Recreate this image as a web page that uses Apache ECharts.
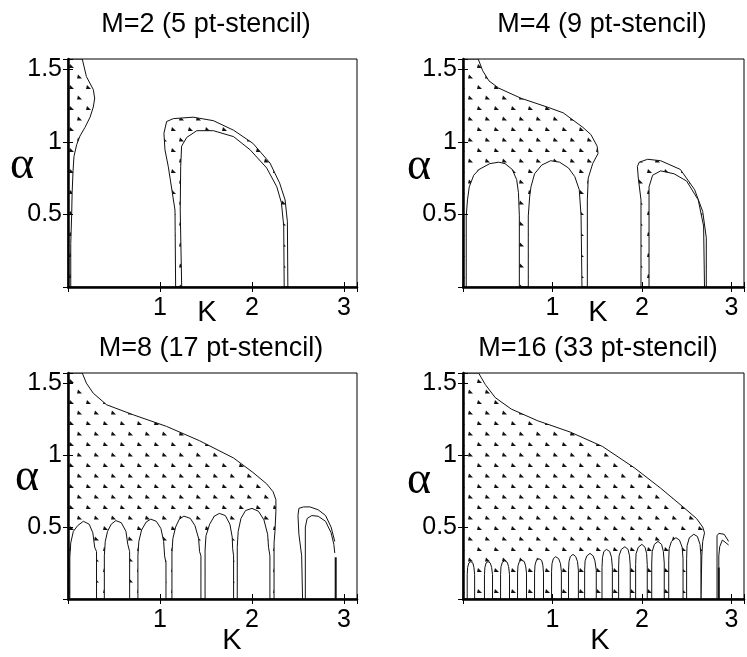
<!DOCTYPE html>
<html>
<head>
<meta charset="utf-8">
<script src="https://cdn.jsdelivr.net/npm/echarts@6/dist/echarts.min.js"></script>
<style>
  html, body { margin: 0; padding: 0; background: #fff; }
  #container { width: 747px; height: 657px; }
</style>
</head>
<body>
<div id="container"></div>
<script>
// panel titles and tick labels
const titles = ['M=2 (5 pt-stencil)', 'M=4 (9 pt-stencil)', 'M=8 (17 pt-stencil)', 'M=16 (33 pt-stencil)'];
const xTicks = [1, 2, 3];
const yTicks = [0.5, 1, 1.5];
const K_MAX = 3.1416, A_MAX = 1.5708;

// ---- M=2 ----
const m2Dotted = [
  [[0,0],[0,1.5708],[0.155,1.5708],[0.20,1.45],[0.275,1.36],[0.29,1.30],[0.275,1.24],[0.24,1.17],[0.185,1.10],[0.13,1.04],[0.094,0.98],[0.065,0.90],[0.055,0.80],[0.045,0.65],[0.04,0.50],[0.03,0.30],[0.03,0]],
  [[1.17,0],[1.165,0.38],[1.163,0.53],[1.09,0.83],[1.054,0.945],[1.043,1.06],[1.072,1.14],[1.145,1.16],[1.36,1.17],[1.58,1.146],[1.80,1.08],[2.01,0.99],[2.196,0.854],[2.30,0.717],[2.36,0.60],[2.385,0.45],[2.39,0]]
];
const m2Holes = [
  [[1.236,0],[1.22,0.53],[1.225,0.83],[1.235,0.97],[1.29,1.03],[1.40,1.077],[1.58,1.077],[1.80,1.036],[1.98,0.945],[2.16,0.82],[2.27,0.69],[2.32,0.58],[2.345,0.42],[2.35,0]]
];

// ---- M=4 ----
const m4Dotted = [
  [[0,0],[0,1.5708],[0.17,1.5708],[0.22,1.49],[0.29,1.42],[0.40,1.37],[0.65,1.30],[0.94,1.24],[1.12,1.20],[1.34,1.10],[1.43,1.05],[1.50,0.97],[1.51,0.92],[1.45,0.85],[1.40,0.75],[1.39,0.60],[1.39,0]],
  [[1.99,0],[1.99,0.60],[1.96,0.75],[1.95,0.83],[1.97,0.86],[2.065,0.88],[2.21,0.87],[2.43,0.81],[2.59,0.67],[2.68,0.52],[2.72,0.34],[2.72,0]]
];
const m4Holes = [
  [[0.036,0],[0.036,0.49],[0.05,0.60],[0.07,0.69],[0.12,0.77],[0.18,0.81],[0.30,0.85],[0.40,0.86],[0.47,0.85],[0.55,0.81],[0.60,0.74],[0.62,0.65],[0.63,0.49],[0.63,0]],
  [[0.73,0],[0.73,0.49],[0.745,0.62],[0.76,0.69],[0.80,0.78],[0.88,0.84],[0.98,0.87],[1.08,0.86],[1.18,0.82],[1.25,0.76],[1.30,0.67],[1.32,0.49],[1.33,0]],
  [[2.08,0],[2.08,0.69],[2.12,0.77],[2.21,0.80],[2.36,0.78],[2.50,0.73],[2.63,0.60],[2.69,0.42],[2.70,0]]
];

// ---- M=8 ----
const m8Dotted = [
  [[0,0],[0,1.5708],[0.155,1.5708],[0.20,1.50],[0.275,1.43],[0.42,1.35],[0.71,1.28],[1.07,1.20],[1.43,1.10],[1.80,0.98],[2.01,0.88],[2.16,0.80],[2.23,0.745],[2.26,0.69],[2.26,0.61],[2.25,0.47],[2.24,0.39],[2.24,0]]
];
const m8Holes = [
  [[0.02,0],[0.02,0.29],[0.03,0.39],[0.058,0.47],[0.105,0.51],[0.167,0.54],[0.23,0.52],[0.27,0.46],[0.29,0.36],[0.31,0.33],[0.31,0]],
  [[0.395,0],[0.395,0.30],[0.405,0.40],[0.43,0.47],[0.47,0.52],[0.52,0.545],[0.58,0.53],[0.63,0.47],[0.65,0.38],[0.67,0.33],[0.67,0]],
  [[0.76,0],[0.76,0.30],[0.77,0.40],[0.80,0.48],[0.85,0.535],[0.90,0.555],[0.96,0.54],[1.01,0.49],[1.04,0.40],[1.05,0.30],[1.065,0.25],[1.065,0]],
  [[1.13,0],[1.13,0.32],[1.14,0.42],[1.17,0.50],[1.21,0.555],[1.26,0.576],[1.33,0.56],[1.38,0.51],[1.42,0.42],[1.43,0.33],[1.445,0.30],[1.445,0]],
  [[1.49,0],[1.49,0.34],[1.50,0.44],[1.54,0.52],[1.59,0.575],[1.645,0.595],[1.71,0.58],[1.76,0.52],[1.785,0.43],[1.79,0.35],[1.80,0.30],[1.80,0]],
  [[1.84,0],[1.84,0.36],[1.85,0.47],[1.88,0.56],[1.93,0.615],[2.00,0.63],[2.07,0.61],[2.13,0.55],[2.17,0.45],[2.18,0.36],[2.195,0.30],[2.195,0]]
];
const m8Lines = [
  [[2.55,0],[2.54,0.30],[2.51,0.45],[2.50,0.58],[2.51,0.63],[2.56,0.64],[2.63,0.64],[2.72,0.62],[2.80,0.58],[2.86,0.50],[2.90,0.40]],
  [[2.58,0],[2.58,0.50],[2.60,0.56],[2.65,0.58],[2.72,0.575],[2.80,0.54],[2.86,0.46],[2.89,0.38],[2.90,0.32]]
];
const m8Bold = [[[2.91,0],[2.91,0.29]]];

// ---- M=16 ----
const m16Dotted = [
  [[0,0],[0,1.5708],[0.174,1.5708],[0.25,1.49],[0.36,1.40],[0.54,1.32],[0.83,1.24],[1.20,1.16],[1.56,1.06],[1.92,0.91],[2.21,0.77],[2.46,0.64],[2.61,0.56],[2.68,0.50],[2.70,0.46],[2.68,0.40],[2.67,0.30],[2.66,0]]
];
const m16Holes = [
  [[0.047,0],[0.047,0.17],[0.052,0.22],[0.065,0.25],[0.087,0.26],[0.11,0.25],[0.122,0.22],[0.13,0.17],[0.13,0]],
  [[0.24,0],[0.24,0.17],[0.245,0.22],[0.258,0.25],[0.28,0.26],[0.305,0.25],[0.32,0.22],[0.33,0.17],[0.33,0]],
  [[0.42,0],[0.42,0.17],[0.425,0.225],[0.44,0.255],[0.467,0.266],[0.495,0.255],[0.51,0.225],[0.52,0.17],[0.52,0]],
  [[0.61,0],[0.61,0.18],[0.615,0.23],[0.63,0.26],[0.655,0.27],[0.685,0.26],[0.70,0.23],[0.71,0.18],[0.71,0]],
  [[0.80,0],[0.80,0.18],[0.805,0.235],[0.82,0.268],[0.85,0.28],[0.88,0.268],[0.893,0.235],[0.90,0.18],[0.90,0]],
  [[0.99,0],[0.99,0.19],[0.995,0.245],[1.01,0.28],[1.036,0.294],[1.07,0.28],[1.09,0.245],[1.10,0.19],[1.10,0]],
  [[1.18,0],[1.18,0.20],[1.185,0.26],[1.20,0.295],[1.23,0.31],[1.26,0.295],[1.28,0.26],[1.29,0.20],[1.29,0]],
  [[1.36,0],[1.36,0.20],[1.365,0.265],[1.385,0.30],[1.42,0.317],[1.455,0.30],[1.475,0.265],[1.49,0.20],[1.49,0]],
  [[1.554,0],[1.554,0.22],[1.56,0.29],[1.575,0.33],[1.605,0.345],[1.64,0.33],[1.66,0.29],[1.67,0.22],[1.67,0]],
  [[1.74,0],[1.74,0.23],[1.745,0.30],[1.77,0.345],[1.81,0.363],[1.845,0.345],[1.862,0.30],[1.87,0.23],[1.87,0]],
  [[1.93,0],[1.93,0.24],[1.935,0.315],[1.96,0.36],[2.00,0.38],[2.035,0.36],[2.053,0.315],[2.06,0.24],[2.06,0]],
  [[2.11,0],[2.11,0.25],[2.115,0.33],[2.14,0.38],[2.18,0.40],[2.22,0.38],[2.24,0.33],[2.25,0.25],[2.25,0]],
  [[2.30,0],[2.30,0.27],[2.305,0.35],[2.33,0.40],[2.38,0.426],[2.42,0.41],[2.45,0.36],[2.46,0.28],[2.46,0]],
  [[2.50,0],[2.50,0.28],[2.505,0.37],[2.53,0.425],[2.58,0.45],[2.62,0.435],[2.65,0.38],[2.66,0.30],[2.66,0]]
];
const m16Lines = [
  [[2.84,0],[2.84,0.44],[2.86,0.456],[2.92,0.45],[2.97,0.40]],
  [[2.86,0.22],[2.86,0.30],[2.87,0.363],[2.90,0.41],[2.94,0.39],[2.97,0.375]]
];
const m16Bold = [[[2.86,0],[2.86,0.22]]];

const panels = [
  { dotted: m2Dotted, holes: m2Holes, lines: [], bold: [] },
  { dotted: m4Dotted, holes: m4Holes, lines: [], bold: [] },
  { dotted: m8Dotted, holes: m8Holes, lines: m8Lines, bold: m8Bold },
  { dotted: m16Dotted, holes: m16Holes, lines: m16Lines, bold: m16Bold }
];

const grids = [
  { left: 68, top: 59, width: 289, height: 228 },
  { left: 463, top: 59, width: 289, height: 228 },
  { left: 68, top: 373, width: 289, height: 226 },
  { left: 463, top: 373, width: 289, height: 226 }
];

// small triangle marks used as the dot fill
function makePattern() {
  const c = document.createElement('canvas');
  c.width = 34; c.height = 21;
  const ctx = c.getContext('2d');
  ctx.fillStyle = '#111';
  [[1, 1], [18, 1], [9, 11.5], [26, 11.5]].forEach(([x, y]) => {
    ctx.beginPath();
    ctx.moveTo(x, y + 4);
    ctx.lineTo(x + 5, y + 4);
    ctx.lineTo(x + 1, y);
    ctx.closePath();
    ctx.fill();
  });
  return c;
}
const pattern = makePattern();

function pick(list) {
  return v => (list.some(t => Math.abs(t - v) < 1e-9) ? String(v) : '');
}

function shapeSeries(gi, polys, kind) {
  return {
    type: 'custom',
    xAxisIndex: gi * 2,
    yAxisIndex: gi * 2,
    clip: true,
    silent: true,
    z: kind === 'dots' ? 2 : 3,
    data: polys.map((p, i) => [p[0][0], p[0][1], i]),
    renderItem: function (params, api) {
      const pts = polys[api.value(2)].map(p => api.coord(p));
      if (kind === 'line' || kind === 'bold') {
        return {
          type: 'polyline',
          shape: { points: pts },
          style: { fill: null, stroke: '#111', lineWidth: kind === 'bold' ? 2 : 1 }
        };
      }
      return {
        type: 'polygon',
        shape: { points: pts },
        style: {
          fill: kind === 'dots' ? { image: pattern, repeat: 'repeat' } : '#fff',
          stroke: '#111',
          lineWidth: 1
        }
      };
    }
  };
}

let mychart = echarts.init(document.getElementById('container'), null, { renderer: 'canvas' });

var option = {
  animation: false,
  backgroundColor: '#fff',
  grid: [],
  xAxis: [],
  yAxis: [],
  series: [],
  graphic: []
};

grids.forEach((g, gi) => {
  option.grid.push(Object.assign({ show: true, borderColor: '#000', borderWidth: 1, backgroundColor: 'transparent' }, g));
  // bottom and top
  option.xAxis.push({
    gridIndex: gi, type: 'value', position: 'bottom', min: 0, max: K_MAX, interval: 1, z: 10,
    axisLine: { show: true, onZero: false, lineStyle: { color: '#000', width: 2.5 } },
    axisTick: { show: true, inside: true, length: 5, lineStyle: { color: '#000', width: 1 } },
    axisLabel: { margin: 9, color: '#000', fontSize: 25, fontFamily: 'Liberation Sans', formatter: pick(xTicks) },
    splitLine: { show: false }
  });
  option.xAxis.push({
    gridIndex: gi, type: 'value', position: 'top', min: 0, max: K_MAX, interval: 1, z: 10,
    axisLine: { show: false },
    axisTick: { show: true, inside: true, length: 5, lineStyle: { color: '#000', width: 1 } },
    axisLabel: { show: false },
    splitLine: { show: false }
  });
  // left and right
  option.yAxis.push({
    gridIndex: gi, type: 'value', position: 'left', min: 0, max: A_MAX, interval: 0.5, z: 10,
    axisLine: { show: true, onZero: false, lineStyle: { color: '#000', width: 2.5 } },
    axisTick: { show: true, inside: true, length: 5, lineStyle: { color: '#000', width: 1 } },
    axisLabel: { margin: 6, color: '#000', fontSize: 25, fontFamily: 'Liberation Sans', formatter: pick(yTicks) },
    splitLine: { show: false }
  });
  option.yAxis.push({
    gridIndex: gi, type: 'value', position: 'right', min: 0, max: A_MAX, interval: 0.5, z: 10,
    axisLine: { show: false },
    axisTick: { show: true, inside: true, length: 5, lineStyle: { color: '#000', width: 1 } },
    axisLabel: { show: false },
    splitLine: { show: false }
  });

  const p = panels[gi];
  option.series.push(shapeSeries(gi, p.dotted, 'dots'));
  option.series.push(shapeSeries(gi, p.holes, 'hole'));
  if (p.lines.length) option.series.push(shapeSeries(gi, p.lines, 'line'));
  if (p.bold.length) option.series.push(shapeSeries(gi, p.bold, 'bold'));
});

// titles, axis names
const titlePos = [[206, 25], [602, 25], [211, 349], [598, 349]];
const alphaPos = [[22, 166], [419, 167], [27, 478], [419, 481]];
const kPos = [[207, 313], [598, 313], [232, 641], [600, 641]];

function txt(text, x, y, font) {
  return {
    type: 'text', x: x, y: y, z: 100,
    style: { text: text, font: font, fill: '#000', textAlign: 'center', textVerticalAlign: 'middle', align: 'center', verticalAlign: 'middle' }
  };
}
titles.forEach((t, i) => option.graphic.push(txt(t, titlePos[i][0], titlePos[i][1], '27px "Liberation Sans"')));
alphaPos.forEach(p => option.graphic.push(txt('α', p[0], p[1], '46px "Liberation Serif"')));
kPos.forEach(p => option.graphic.push(txt('K', p[0], p[1], '29px "Liberation Sans"')));

mychart.setOption(option);
</script>
</body>
</html>
